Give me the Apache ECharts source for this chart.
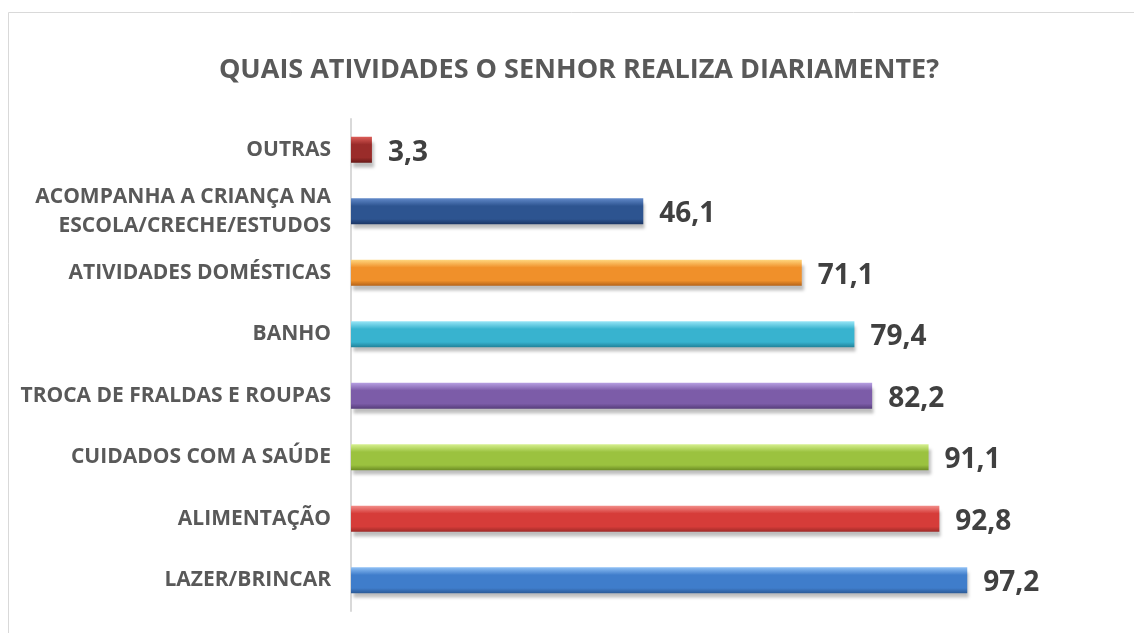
<!DOCTYPE html>
<html>
<head>
<meta charset="utf-8">
<script src="https://cdn.jsdelivr.net/npm/echarts@6/dist/echarts.min.js"></script>
<style>
    html, body {margin: 0; padding: 0; background: #fff;}
    #chart {width: 1134px; height: 633px;}
</style>
</head>
<body>
<div id="chart"></div>
<script>
// categories from bottom to top
var categories = [
    'LAZER/BRINCAR',
    'ALIMENTAÇÃO',
    'CUIDADOS COM A SAÚDE',
    'TROCA DE FRALDAS E ROUPAS',
    'BANHO',
    'ATIVIDADES DOMÉSTICAS',
    'ACOMPANHA A CRIANÇA NA\nESCOLA/CRECHE/ESTUDOS',
    'OUTRAS'
];
var values = [97.2, 92.8, 91.1, 82.2, 79.4, 71.1, 46.1, 3.3];

// bar colours: [light, base, dark]
var barColors = [
    ['#8fc0f5', '#3f7dcb', '#2c5a96'],
    ['#f28d89', '#d63c39', '#9e2a28'],
    ['#d6f090', '#9bc23f', '#6c8c24'],
    ['#b7a0e2', '#7c5ca8', '#563d7a'],
    ['#98e6f7', '#38b3cf', '#218199'],
    ['#ffd67e', '#f0902a', '#b56318'],
    ['#6189c9', '#2d5490', '#1b3665'],
    ['#dc5d58', '#9a2c2a', '#681918']
];

var chartDom = document.getElementById('chart');
var myChart = echarts.init(chartDom);
var option;

var seriesData = values.map(function (v, i) {
    var c = barColors[i];
    return {
        value: v,
        itemStyle: {
            color: new echarts.graphic.LinearGradient(0, 0, 0, 1, [
                {offset: 0, color: c[0]},
                {offset: 0.3, color: c[1]},
                {offset: 0.8, color: c[1]},
                {offset: 1, color: c[2]}
            ])
        }
    };
});

option = {
    animation: false,
    textStyle: {fontFamily: 'Open Sans'},
    title: {
        text: 'QUAIS ATIVIDADES O SENHOR REALIZA DIARIAMENTE?',
        left: 574,
        textAlign: 'center',
        top: 52,
        textStyle: {
            fontFamily: 'Open Sans',
            fontSize: 27,
            fontWeight: 'bold',
            color: '#595959'
        }
    },
    graphic: [{
        type: 'rect',
        shape: {x: 8.5, y: 12.5, width: 1140, height: 640},
        style: {fill: 'none', stroke: '#d9d9d9', lineWidth: 1}
    }],
    grid: {
        left: 351,
        right: 149,
        top: 119,
        bottom: 22
    },
    xAxis: {
        type: 'value',
        min: 0,
        max: 100,
        show: false
    },
    yAxis: {
        type: 'category',
        data: categories,
        axisLine: {show: true, lineStyle: {color: '#d9d9d9', width: 2}},
        axisTick: {show: false},
        axisLabel: {
            margin: 20,
            fontFamily: 'Open Sans',
            fontSize: 21,
            fontWeight: 'bold',
            color: '#595959',
            lineHeight: 29,
            align: 'right'
        }
    },
    series: [{
        type: 'bar',
        barWidth: 26,
        data: seriesData,
        itemStyle: {
            shadowColor: 'rgba(0,0,0,0.25)',
            shadowBlur: 3,
            shadowOffsetX: 2,
            shadowOffsetY: 5
        },
        label: {
            show: true,
            position: 'right',
            distance: 16,
            fontFamily: 'Open Sans',
            fontSize: 28,
            fontWeight: 'bold',
            color: '#404040',
            offset: [0, 3],
            formatter: function (p) {
                return p.value.toFixed(1).replace('.', ',');
            }
        }
    }]
};

option && myChart.setOption(option);
</script>
</body>
</html>
